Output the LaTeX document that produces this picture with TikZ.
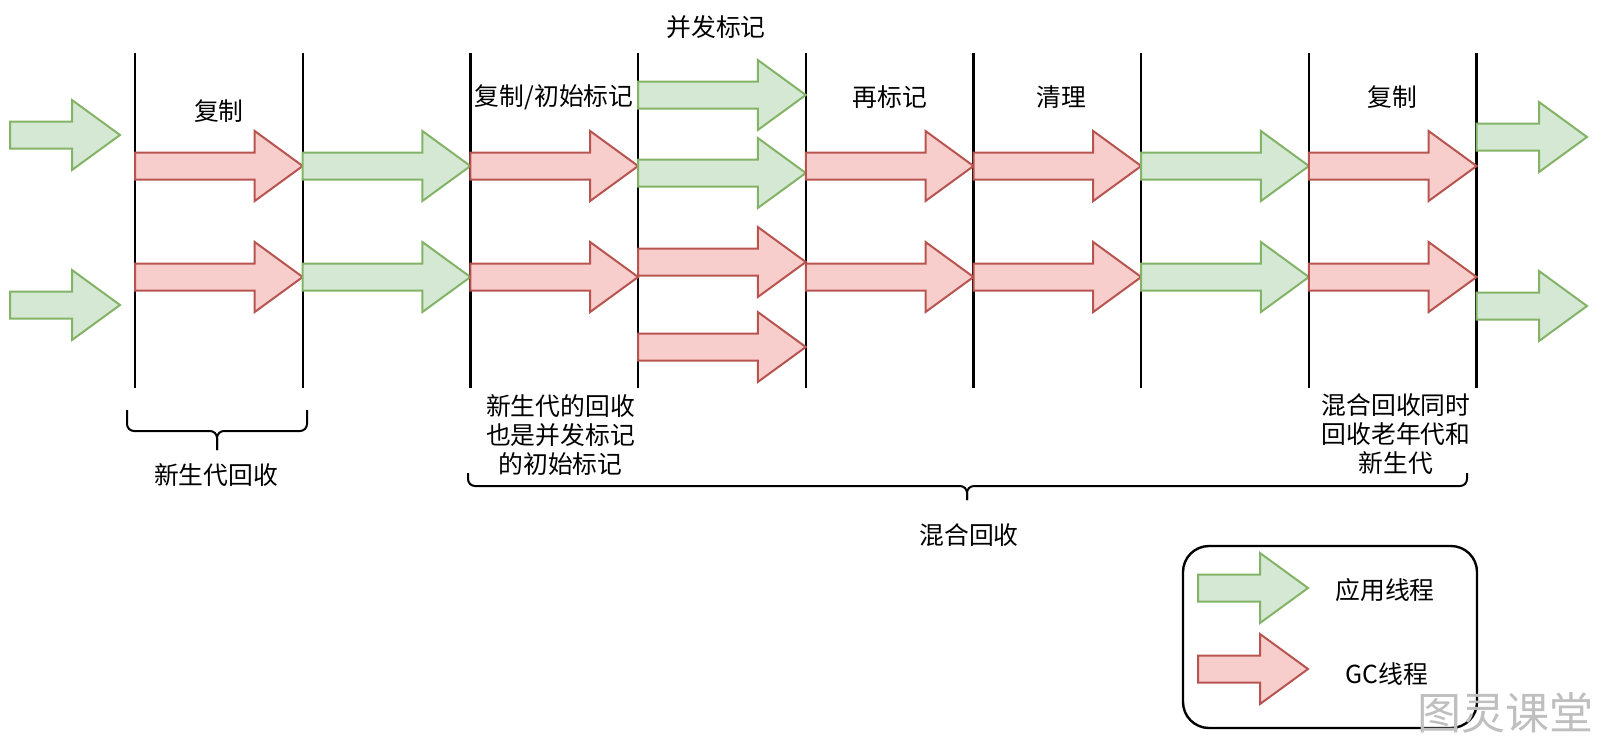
\documentclass[tikz,border=0pt]{standalone}
\usepackage{fontspec}
\setmainfont{Noto Sans CJK SC}
\usetikzlibrary{positioning}

\definecolor{appfill}{HTML}{D5E8D4}
\definecolor{appline}{HTML}{82B366}
\definecolor{gcfill}{HTML}{F8CECC}
\definecolor{gcline}{HTML}{B85450}

\tikzset{
  app/.style={draw=appline, fill=appfill, line width=1pt},
  gc/.style={draw=gcline, fill=gcfill, line width=1pt},
  tline/.style={line width=1.2pt},
  brace/.style={line width=1pt, rounded corners=3.5pt},
  lbl/.style={font=\fontsize{12.4}{14.5}\selectfont, inner sep=0pt, align=center},
}

% fleche bloc : style, x depart, y milieu, x pointe
\newcommand{\blockarrow}[4]{%
  \draw[#1] (#2,#3-13.5) -- (#4-48,#3-13.5) -- (#4-48,#3-35) -- (#4,#3)
    -- (#4-48,#3+35) -- (#4-48,#3+13.5) -- (#2,#3+13.5) -- cycle;}

\begin{document}
\begin{tikzpicture}[x=0.5pt, y=-0.5pt]
\useasboundingbox (0,0) rectangle (1600,741);
\def\ya{166}
\def\yb{277}
%
% Pauses :
\foreach \i in {0,...,8}
  \draw[tline] ({135+167.7*\i},53) -- ({135+167.7*\i},388);
%
% Threads :
\blockarrow{app}{10}{135}{120}
\blockarrow{app}{10}{305}{120}
\blockarrow{gc}{135}{\ya}{302.7}
\blockarrow{gc}{135}{\yb}{302.7}
\blockarrow{app}{302.7}{\ya}{470.4}
\blockarrow{app}{302.7}{\yb}{470.4}
\blockarrow{gc}{470.4}{\ya}{638.1}
\blockarrow{gc}{470.4}{\yb}{638.1}
\blockarrow{app}{638.1}{95}{805.8}
\blockarrow{app}{638.1}{173}{805.8}
\blockarrow{gc}{638.1}{262}{805.8}
\blockarrow{gc}{638.1}{347}{805.8}
\blockarrow{gc}{805.8}{\ya}{973.5}
\blockarrow{gc}{805.8}{\yb}{973.5}
\blockarrow{gc}{973.5}{\ya}{1141.2}
\blockarrow{gc}{973.5}{\yb}{1141.2}
\blockarrow{app}{1141.2}{\ya}{1308.9}
\blockarrow{app}{1141.2}{\yb}{1308.9}
\blockarrow{gc}{1308.9}{\ya}{1476.6}
\blockarrow{gc}{1308.9}{\yb}{1476.6}
\blockarrow{app}{1476.6}{137}{1587}
\blockarrow{app}{1476.6}{306}{1587}
%
% Phases :
\node[lbl] (copyA) at (218.8,111) {复制};
\node[lbl] (initmark) at (554.2,97) {复制/初始标记};
\node[lbl] (concmark) at (716,27) {并发标记};
\node[lbl] (remark) at (889.6,97) {再标记};
\node[lbl] (cleanup) at (1061,97) {清理};
\node[lbl] (copyB) at (1392.7,97) {复制};
%
% Accolades :
\draw[brace] (127,410) -- (127,431) -- (217,431) -- (217,450);
\draw[brace] (307,410) -- (307,431) -- (217,431) -- (217,450);
\node[lbl] (younggc) at (216,475) {新生代回收};
\node[lbl] (youngnote) at (560.5,435) {新生代的回收\\也是并发标记\\的初始标记};
\node[lbl] (mixnote) at (1396,434) {混合回收同时\\回收老年代和\\新生代};
\draw[brace] (468,473) -- (468,486) -- (967,486) -- (967,500);
\draw[brace] (1467,473) -- (1467,486) -- (967,486) -- (967,500);
\node[lbl] (mixgc) at (969,535) {混合回收};
%
% Legende :
\draw[line width=1.2pt, rounded corners=13pt] (1183,546) rectangle (1477,728);
\blockarrow{app}{1198}{588}{1308}
\blockarrow{gc}{1198}{669}{1308}
\node[lbl] (applbl) at (1385,590) {应用线程};
\node[lbl] (gclbl) at (1387,674) {GC线程};
\node[font=\fontsize{22}{22}\selectfont, text=black!25, inner sep=0pt] (mark) at (1505,713) {图灵课堂};
\end{tikzpicture}
\end{document}
